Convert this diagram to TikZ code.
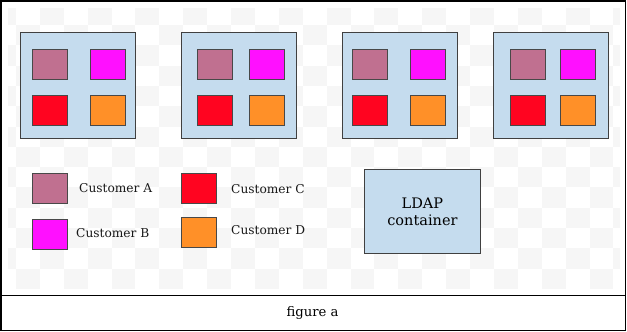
\documentclass[tikz,border=0pt]{standalone}
\usepackage{fontspec}
\setmainfont{DejaVu Serif}
\definecolor{custA}{HTML}{C07090}
\definecolor{custB}{HTML}{FF10FF}
\definecolor{custC}{HTML}{FF0420}
\definecolor{custD}{HTML}{FF9028}
\definecolor{ctrblue}{HTML}{C5DCEE}
\definecolor{boxline}{HTML}{404040}
\definecolor{sqline}{HTML}{484848}
\definecolor{checkgray}{HTML}{F6F6F6}
\begin{document}
\begin{tikzpicture}[x=1pt,y=-1pt,
  ctr/.style={draw=boxline,fill=ctrblue,line width=0.9pt,minimum width=115,minimum height=106,anchor=north west,inner sep=0pt,outer sep=0pt},
  sq/.style={draw=sqline,line width=0.75pt,minimum width=35,minimum height=30,anchor=north west,inner sep=0pt,outer sep=0pt},
  legtext/.style={anchor=west,inner sep=0pt,text=black!90,font=\fontsize{12.2}{14}\selectfont},
  ldap/.style={draw=boxline,fill=ctrblue,line width=0.9pt,minimum width=116,minimum height=84,anchor=north west,inner sep=0pt,align=center,font=\fontsize{14.5}{17}\selectfont}]
\useasboundingbox (0,0) rectangle (627,332);
% checkered background
\begin{scope}
  \clip (8,8) rectangle (620,288);
  \foreach \i in {0,...,13}{
    \foreach \j in {0,...,26}{
      \pgfmathtruncatemacro\pty{mod(\i+\j,2)}
      \ifnum\pty=0
        \fill[checkgray] (-8+23.9*\j,4.7+20.3*\i) rectangle ++(23.9,20.3);
      \fi
    }
  }
\end{scope}
% frame
\draw[line width=1.1pt] (1,1) rectangle (625.5,330.5);
\draw[line width=1.1pt] (1,295.5) -- (625.5,295.5);
\node[inner sep=0pt,font=\fontsize{13.2}{15}\selectfont] (cap) at (312.5,313) {figure a};
% containers
\node[ctr] (c1) at (20,32) {};
\node[ctr] (c2) at (181,32) {};
\node[ctr] (c3) at (342,32) {};
\node[ctr] (c4) at (493,32) {};
% customer squares
\foreach \n/\xa/\xb in {1/32/90, 2/197/249, 3/352/410, 4/510/560}{
  \node[sq,fill=custA] (a\n) at (\xa,49) {};
  \node[sq,fill=custB] (b\n) at (\xb,49) {};
  \node[sq,fill=custC] (cc\n) at (\xa,95) {};
  \node[sq,fill=custD] (d\n) at (\xb,95) {};
}
% legend
\node[sq,fill=custA] (la) at (32,173) {};
\node[sq,fill=custB] (lb) at (32,219) {};
\node[sq,fill=custC] (lc) at (181,173) {};
\node[sq,fill=custD] (ld) at (181,217) {};
\node[legtext] (ta) at (79,188) {Customer A};
\node[legtext] (tb) at (76,233) {Customer B};
\node[legtext] (tc) at (231,189) {Customer C};
\node[legtext] (td) at (231,230) {Customer D};
% LDAP
\node[ldap] (ldapbox) at (364,169) {LDAP\\container};
\end{tikzpicture}
\end{document}
